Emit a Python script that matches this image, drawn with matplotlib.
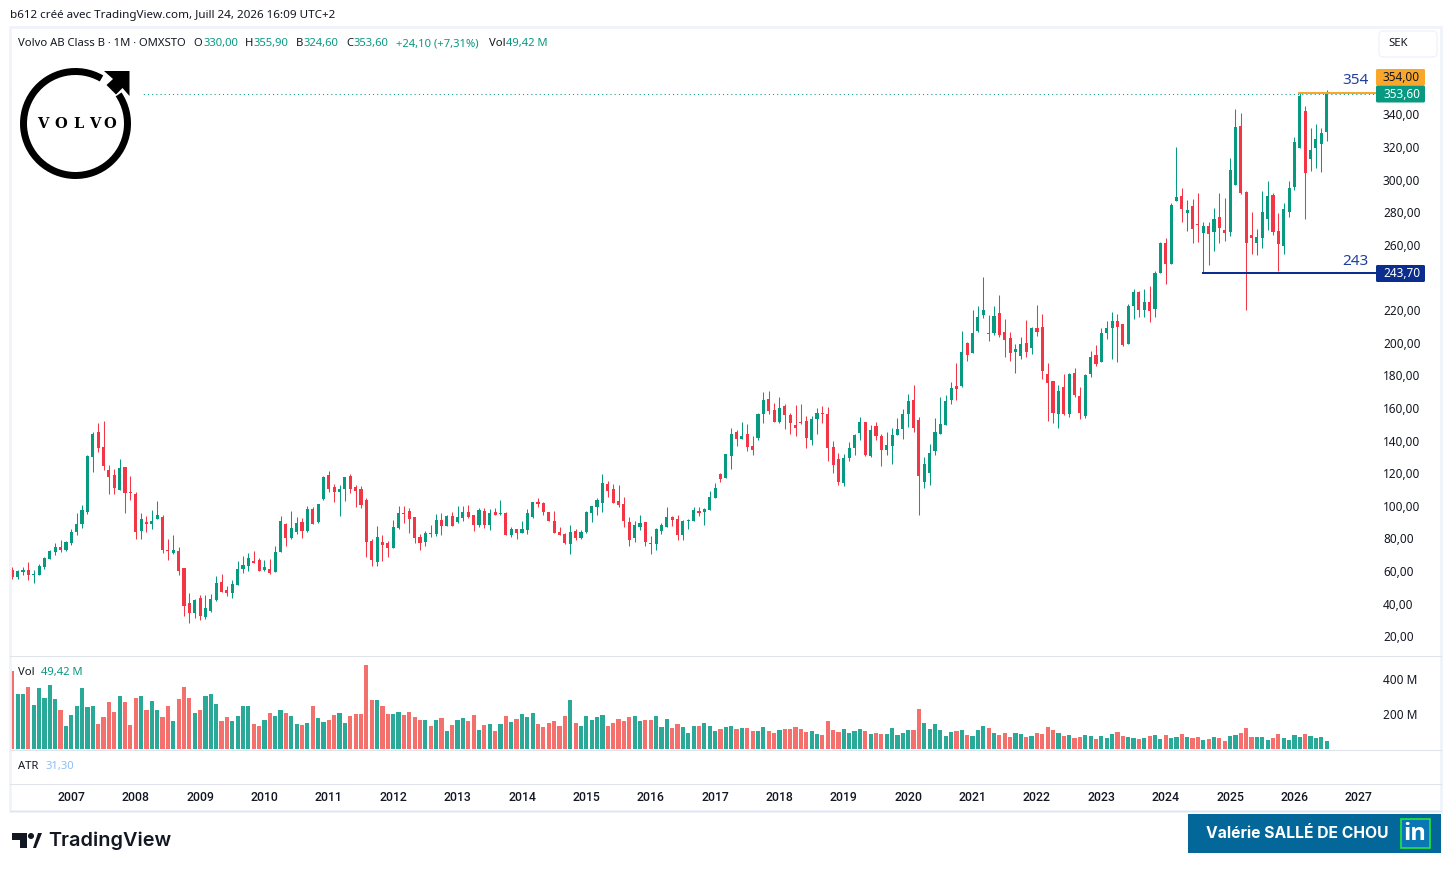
import matplotlib
matplotlib.use('Agg')
import matplotlib.pyplot as plt
from matplotlib.patches import Rectangle, Wedge, Polygon, FancyBboxPatch

opens = [60.7,56.4,59.5,60.7,57.6,57.6,62.5,67.5,71.7,74.8,
 73,77.3,84,88.9,96.3,130,145.4,136.2,122.1,119,
 109.8,123.9,108.6,107.3,84.6,90.2,88.9,92,93.2,73,
 71.1,72.4,61.9,40.5,34.3,43.5,31.9,35.6,42.3,53.3,
 48.4,46.6,51.5,61.3,63.2,66.2,66.8,60.7,61.3,59.5,
 71.7,88.9,80.3,84,90.2,84.6,98.1,90.2,104.3,119,
 111.6,108.5,110.3,118.3,111.6,110.3,103.6,78.4,65.5,77.8,
 77.2,74.1,86.4,95.6,96.8,93.2,80.9,77.8,83.3,82.7,
 91.3,87.6,93.8,90.1,92.5,96.2,94.4,88.2,96.8,88.2,
 96.2,95,95.6,82.1,85.8,83.3,85.2,93.2,102.4,101.7,
 96.2,90.7,83.9,82.7,76.6,84.6,80.3,83.9,95.6,99.3,
 101.7,113.4,110.3,103,101.1,90.1,80.3,87,90.1,77.2,
 76.6,84.6,87,93.2,91.9,82.1,90.7,90.7,96.9,96.2,
 97.5,104.8,119.6,117.1,130.6,145.3,141,144.1,136.7,141.6,
 156.4,165.6,158.8,151.4,161.3,155.7,149.6,151.4,152,140.4,
 153.3,157,156.4,136.1,128.7,114,129.4,135.5,144.7,151.4,
 130.6,149,142.9,134.3,136.7,143.5,147.2,156.4,165,152.7,
 114.7,120.2,133.7,144.1,149.6,165,173.5,173.5,199.9,193.8,
 207.3,217.1,206,206,218.4,206.7,203,194.4,192,199.9,
 196.9,209.2,209.8,180.9,176.6,156.4,173,156.4,181.5,167.4,
 155.2,180.9,192.6,188.3,206.1,209.2,213.4,211.6,199.3,222.6,
 231.2,220.2,225.1,220.8,242.9,261.3,248.4,287.1,290.1,279.7,
 284,272.9,267.4,271.7,268,277.3,269.3,268,296.9,333.1,
 292.6,266.2,261.3,264.4,276,290.7,268.7,259.5,280.3,295.7,
 319.6,342.3,312.8,319.6,322,329]
highs = [62.5,60.7,62.5,65.6,60.7,64.4,68.7,73,77.3,79.1,
 78.5,85.9,95.7,100.6,131.3,145.4,150.9,152.1,125.1,122.7,
 128.8,123.9,118.4,108.6,95.7,93.8,97.5,103,94.4,79.7,
 82.2,74.8,61.9,46.6,42.9,45.4,45.4,46,57,58.2,
 50.9,54.6,66.2,69.3,71.1,72.4,68.1,66.8,67.5,75.4,
 93.8,89.5,96.9,93.2,92.6,100,99.4,101.2,118.4,121.4,
 113.5,112.8,117.7,119.5,112.8,112.2,104.8,79.6,87.6,82.1,
 78.4,91.3,99.9,99.9,98.7,93.2,82.7,84.6,88.2,95,
 95.6,94.4,96.2,99.9,99.9,100.5,94.4,98.7,98.7,98,
 98.7,103.6,96.2,87,85.8,90.7,98,102.4,104.8,102.4,
 96.2,96.8,87,83.3,88.2,85.8,85.2,96.8,99.9,104.8,
 119.5,115.2,113.4,112.8,105.4,93.2,90.7,94.4,90.1,81.5,
 86.4,89.5,99.3,93.8,94.4,91.3,91.9,99.3,99.3,98.7,
 109.1,114,120.2,131.8,147.8,146.5,151.4,150.2,142.9,157,
 169.9,170.5,163.1,166.8,162.5,157,161.9,162.5,155.1,155.1,
 160,161.3,160.7,139.8,132.4,131.8,139.2,144.1,154.5,151.4,
 149.6,151.4,144.1,145.3,147.8,153.9,159.4,168.6,174.2,154.5,
 130,138,153.9,166.8,168,176,187.6,207.3,200.5,220.2,
 222.6,240.4,217.1,222.6,229.4,214.7,206.7,199.3,203.6,214.1,
 209.8,223.3,217.7,187.7,176.6,174.2,180.9,181.5,184.6,173,
 180.9,195,198.7,209.2,213.4,219,217.7,211.6,223.9,233.1,
 231.9,233.1,234.9,244.1,261.9,264.4,285.8,320.2,295,287.7,
 288.3,292,274.2,274.2,282.8,292,288.9,313.5,343.5,341,
 293.2,280.3,269.9,293.2,299.3,292,279.7,285.8,299.3,326.3,
 353,345.3,331.9,334.3,331.9,354.9]
lows = [55.2,55.2,57.6,54.6,52.7,57.6,61.3,67.5,69.9,71.7,
 72.4,76,82.2,86.5,95.1,120.8,133.1,122.1,107.3,107.3,
 109.8,95.7,103.7,79.7,79.7,84,85.9,92,71.1,66.8,
 70.5,57.6,32.5,28.2,31.3,30,30.6,34.9,41.7,47.2,
 44.8,43.5,51.5,58.9,60.1,65,60.1,60.1,58.3,59.5,
 71.7,75.4,79.7,82.8,80.3,84,88.9,89.5,103.7,108.6,
 102.4,93.8,103,107.9,99.3,98.7,68.6,63.1,63.1,66.2,
 68.6,74.1,85.8,89.5,83.3,77.2,72.9,75.4,80.9,81.5,
 82.1,87.6,87.6,89.5,90.7,92.5,84.6,87,86.4,85.2,
 94.4,94.4,82.1,80.9,79.6,83.3,82.7,92.5,99.3,94.4,
 90.7,83.3,82.1,76.6,70.4,79,79.6,83.3,90.1,94.4,
 96.2,105.4,101.7,99.3,87,75.4,77.8,85.2,75.4,70.4,
 72.9,82.7,87,87.6,79,79,85.8,90.7,93.8,88.3,
 97.5,104.8,114.7,117.1,122.6,136.7,141,133.7,131.2,140.4,
 150.8,156.4,151.4,150.8,147.2,144.1,142.9,150.2,135.5,137.3,
 144.1,150.8,127.5,120.2,112.8,112.2,127.5,131.2,140.4,130.6,
 130,140.4,124.5,131.2,125.7,143.5,141,148.4,145.3,94.4,
 110.9,112.8,131.2,144.1,149.6,162.5,165,172.9,188.9,193.8,
 206.7,215.3,201.1,204.8,203.6,191.4,188.9,181.5,190.1,191.4,
 193.2,204.2,177.9,152.1,150.9,147.8,155.8,154.6,166.8,153.3,
 153.9,179.1,185.8,188.3,202.4,190.1,188.3,198.1,199.3,214.7,
 215.9,215.9,212.8,215.9,242.9,236.2,248.4,287.1,274.2,268.7,
 261.3,261.9,242.7,247.8,256.4,261.3,262.5,265.6,296.9,291.4,
 220.2,254.6,254,258.2,269.3,266.2,244.1,254.6,277.3,293.8,
 319.6,276,305.5,307.3,304.9,323.6]
closes = [56.4,60.1,60.7,57.6,58.2,63.2,68.1,72.4,74.8,73,
 77.9,84,88.9,97.5,130.6,144.1,135.6,124.5,117.8,111,
 123.3,107.9,107.9,84,92,88.9,90.8,94.4,73,72.4,
 73,60.1,38.6,34.3,42.3,32.5,37.4,42.9,52.7,47.2,
 46.6,52.1,61.3,63.8,68.1,65,60.1,62.5,58.9,71.7,
 90.8,80.3,86.5,89.5,84.6,98.1,88.9,101.2,117.8,110.4,
 108.6,110.3,117.7,110.3,109.1,100.5,77.8,66.8,80.9,76,
 74.1,87,95.6,95,91.9,80.3,77.2,83.3,82.7,91.3,
 87.6,93.8,87.6,93.2,96.2,93.2,88.2,97.4,88.2,95.6,
 94.4,95.6,82.1,85.8,83.3,85.8,95.6,102.4,101.1,96.2,
 90.7,83.3,82.1,77.2,83.9,80.3,83.9,96.2,99.9,103.6,
 114,109.1,101.7,100.5,90.7,79,88.2,89.5,77.8,76.6,
 85.8,88.2,93.2,91.3,82.1,90.7,91.3,97.5,95.6,98.1,
 105.4,110.9,116.5,131.8,144.1,141,142.9,136.1,134.3,156.4,
 165,158.2,151.4,160,155.7,150.8,147.8,150.8,141.6,153.3,
 157,156.4,135.5,125,114.7,129.4,135.5,143.5,151.4,131.2,
 146.5,142.9,134.3,137.3,143.5,147.2,156.4,164.3,147.8,118.3,
 125.7,132.4,145.3,150.2,164.3,172.3,171.7,194.4,192.6,206,
 215.9,220.2,205.4,216.5,204.9,201.8,193.8,196.3,199.3,194.4,
 209.2,206.7,182.8,175.4,157,170.5,156.4,180.9,168.1,157,
 180.3,191.4,187.1,206.1,209.2,213.4,209.8,198.7,222.6,231.2,
 220.2,225.1,219.6,242.9,261.3,248.4,284.6,289.5,282.2,281.5,
 269.9,272.3,271.7,266.8,276,270.5,267.4,306.1,332.5,292,
 261.3,264.4,265,280.3,290.1,268,260.7,282.2,295,323.3,
 351.5,304.3,318.4,325.1,328.8,352.6]
volumes = [446,315,315,355,253,350,293,367,287,224,
 133,196,247,350,241,247,144,184,270,213,
 304,270,139,293,304,224,276,224,184,247,
 162,287,355,293,207,224,304,315,258,162,
 184,162,190,247,247,144,133,167,207,190,
 224,207,190,144,139,150,247,179,156,167,
 196,207,150,190,201,201,481,281,281,247,
 201,201,213,196,213,184,167,167,133,167,
 179,105,139,167,179,162,196,110,139,144,
 105,144,190,156,173,201,184,207,144,127,
 150,162,133,190,281,150,133,190,167,184,
 196,133,150,173,162,184,190,162,167,167,
 190,127,173,122,144,127,93,133,133,150,
 133,105,116,127,133,116,122,122,105,105,
 127,105,93,110,116,116,127,116,99,105,
 87,82,162,110,99,116,93,105,116,105,
 87,93,87,87,122,82,93,110,110,230,
 150,116,144,110,76,99,105,110,82,76,
 110,133,122,93,82,93,70,93,87,70,
 76,93,87,127,110,93,76,82,65,70,
 82,76,59,76,65,87,99,76,70,65,
 59,65,76,82,59,82,65,70,87,70,
 65,70,53,59,70,65,48,76,82,93,
 122,70,70,70,53,65,87,65,53,82,
 70,87,76,65,70,49.42]
years = list(range(2007, 2028))
# 240 sits behind the 243,70 tag in the reference
price_ticks = [20, 40, 60, 80, 100, 120, 140, 160, 180, 200, 220, 260, 280, 300, 320, 340]
vol_ticks = [200, 400]
# levels as read against the tick labels
high_level = 353.0
low_level = 242.7
last_close = 352.6
high_start = 240
low_start = 222

UP = '#089981'
DOWN = '#F23645'
UP_VOL = '#2AA898'
DOWN_VOL = '#F4706C'
NAVY = '#0B2D8E'
ORANGE = '#F9A72B'
TEXT = '#131722'
LINE = '#E0E3EB'
FONT = 'Noto Sans'
W, H = 1451, 871
plt.rcParams['font.family'] = FONT


def pixel_axes(fig, x0, y0, x1, y1):
    return fig.add_axes([x0 / W, 1 - y1 / H, (x1 - x0) / W, (y1 - y0) / H])


fig = plt.figure(figsize=(W / 100, H / 100), dpi=100, facecolor='white')
xpos = list(range(len(closes)))
xlim = (-0.43, 254.2)

ax = pixel_axes(fig, 10, 28, 1376, 655)
ax.set_xlim(xlim)
ax.set_ylim(8.5, 393)
colors = [UP if c >= o else DOWN for o, c in zip(opens, closes)]
ax.axhline(last_close, color=UP, lw=0.75, ls=(0, (1, 3)), zorder=1)
ax.vlines(xpos, lows, highs, colors=colors, lw=0.75, zorder=2)
tops = [max(o, c) for o, c in zip(opens, closes)]
bots = [min(o, c) for o, c in zip(opens, closes)]
ax.bar(xpos, [max(t - b, 0.6) for t, b in zip(tops, bots)], bottom=bots,
       width=0.58, color=colors, linewidth=0, zorder=3)
ax.plot([high_start - 0.3, xlim[1]], [high_level, high_level], color=ORANGE, lw=1.45, zorder=4,
        solid_capstyle='butt')
ax.plot([low_start - 0.3, xlim[1]], [low_level, low_level], color=NAVY, lw=1.45, zorder=4,
        solid_capstyle='butt')
ax.set_xticks([])
ax.yaxis.tick_right()
ax.set_yticks(price_ticks)
ax.set_yticklabels([f'{p},00' for p in price_ticks], fontsize=8.5, color=TEXT)
for lab, p in zip(ax.get_yticklabels(), price_ticks):
    if p % 100 == 0:
        lab.set_fontweight('semibold')
ax.tick_params(axis='y', length=0, pad=5)

vol = pixel_axes(fig, 10, 656, 1376, 749.3)
vol.set_xlim(xlim)
vol.set_ylim(0, 533)
vol.bar(xpos, volumes, width=0.78, linewidth=0,
        color=[UP_VOL if c >= o else DOWN_VOL for o, c in zip(opens, closes)])
vol.set_xticks([])
vol.yaxis.tick_right()
vol.set_yticks(vol_ticks)
vol.set_yticklabels([f'{v} M' for v in vol_ticks], fontsize=8.5, color=TEXT)
vol.tick_params(axis='y', length=0, pad=5)

tim = pixel_axes(fig, 10, 783, 1376, 811)
tim.set_xlim(xlim)
tim.set_ylim(0, 1)
tim.set_yticks([])
tim.set_xticks([11 + 12 * k for k in range(len(years))])
tim.set_xticklabels(years, fontsize=8.8, color=TEXT, fontweight='medium', family='Roboto')
tim.tick_params(axis='x', length=0, pad=-14.5)

for a in (ax, vol, tim):
    a.patch.set_alpha(0)
    for s in a.spines.values():
        s.set_visible(False)

# overlay in pixel coordinates for the frame, tags, logos
ov = fig.add_axes([0, 0, 1, 1], zorder=10)
ov.set_xlim(0, W)
ov.set_ylim(H, 0)
ov.axis('off')
ov.patch.set_alpha(0)

ov.add_patch(Rectangle((10, 27), 1431, 784, fill=False, ec='#F0F3FA', lw=2))
for y in (655.5, 749.5, 783.5):
    ov.plot([10, 1441], [y, y], color=LINE, lw=0.75)
ov.plot([10, 1441], [810.5, 810.5], color=LINE, lw=0.75)
ov.text(10, 15.5, 'b612 créé avec TradingView.com, Juill 24, 2026 16:09 UTC+2', fontsize=8.4, color=TEXT, va='center')


def txt(x, y, s, c=TEXT, **kw):
    ov.text(x, y + 1.5, s, fontsize=kw.pop('fs', 8.1), color=c, va='center', **kw)


txt(18, 42, 'Volvo AB Class B · 1M · OMXSTO')
for x, s in [(193, 'O'), (245, 'H'), (296, 'B'), (346, 'C'), (489, 'Vol')]:
    txt(x, 42, s)
for x, s in [(203, '330,00'), (254, '355,90'), (304, '324,60'), (354, '353,60'),
             (396, '+24,10 (+7,31%)'), (506, '49,42 M')]:
    txt(x, 42, s, UP)
txt(18, 671, 'Vol')
txt(41, 671, '49,42 M', UP)
txt(18, 765, 'ATR')
txt(45, 765, '31,30', '#90BFF9')

ov.add_patch(FancyBboxPatch((1381, 33), 54, 22, boxstyle='round,pad=2,rounding_size=4',
                            fc='white', ec='#F0F3FA', lw=1))
txt(1388, 42.5, 'SEK')

# price tags
for y0, y1, col, s in [(69, 85.5, ORANGE, '354,00'), (85.5, 102.5, UP, '353,60'), (265, 282, NAVY, '243,70')]:
    ov.add_patch(FancyBboxPatch((1376, y0), 49, y1 - y0, boxstyle='round,pad=0,rounding_size=1.5',
                                fc=col, ec='none'))
    ov.text(1401.5, (y0 + y1) / 2, s, fontsize=8.5, color=TEXT if col == ORANGE else 'white', ha='center', va='center')
txt(1342, 79.5, '354', '#1F3F9F', fs=11)
txt(1342, 259.5, '243', '#1F3F9F', fs=11)

# volvo logo
ov.add_patch(Rectangle((13, 60), 128, 125, fc='white', ec='none'))
ov.add_patch(Wedge((75.5, 123.5), 55.5, -34, 300, width=7, fc='black', ec='none'))
ov.add_patch(Polygon([(104, 71), (129.5, 71), (129.5, 96), (122.5, 88), (116, 94.5), (106.5, 85), (113, 79)],
                     closed=True, fc='black', ec='none'))
for x, ch in zip([43, 61, 78, 95, 110], 'VOLVO'):
    ov.text(x, 123.5, ch, fontsize=10.5, family='DejaVu Serif', fontweight='bold', color='black', ha='center', va='center')

# tradingview logo
ov.add_patch(Polygon([(12, 833), (27, 833), (27, 848), (20, 848), (20, 840), (12, 840)], closed=True, fc='#131722', ec='none'))
ov.add_patch(Wedge((31, 836), 3, 0, 360, fc='#131722', ec='none'))
ov.add_patch(Polygon([(33, 848), (38, 833), (42, 833), (36, 848)], closed=True, fc='#131722', ec='none'))
ov.text(48, 841, 'TradingView', fontsize=14.3, color='#131722', fontweight='semibold', family='Inter', va='center')

# signature banner
ov.add_patch(Rectangle((1188, 814), 253, 39, fc='#04679A', ec='none'))
ov.text(1206, 833.5, 'Valérie SALLÉ DE CHOU', fontsize=11.3, color='white', fontweight='bold', family='Inter', va='center')
ov.add_patch(Rectangle((1401, 819), 28.5, 28.5, fc='#0A76B4', ec='#22E63C', lw=1.2))
ov.text(1415, 834, 'in', fontsize=17, color='white', fontweight='bold', family='Open Sans', ha='center', va='center')

fig.savefig('out.png', dpi=100)
